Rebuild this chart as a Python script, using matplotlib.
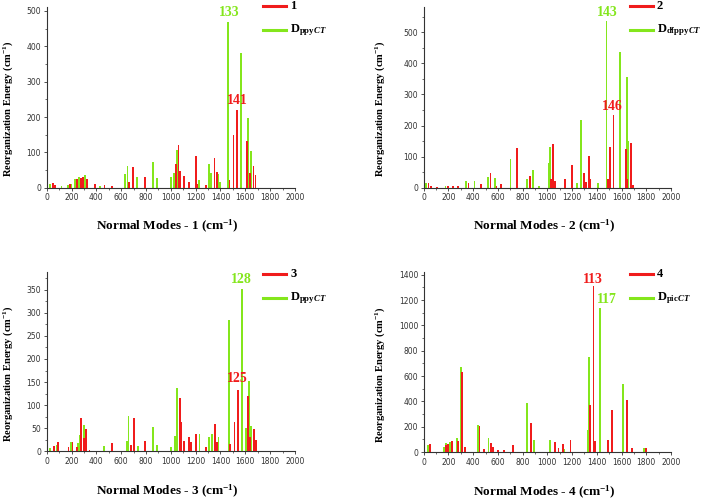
import matplotlib
matplotlib.use("Agg")
import matplotlib.pyplot as plt
from matplotlib.lines import Line2D
from matplotlib.ticker import MultipleLocator

plt.rcParams['mathtext.fontset'] = 'custom'
plt.rcParams['mathtext.rm'] = 'Liberation Serif:bold'
plt.rcParams['mathtext.bf'] = 'Liberation Serif:bold'
plt.rcParams['mathtext.it'] = 'Liberation Serif:bold:italic'

# ---------------- data ----------------
# Panel 1 : complex 1 (red) vs D_ppyCT (green)
p1_red_x = [48, 67, 188, 242, 277, 290, 322, 389, 465, 524, 663, 693, 792, 1042, 1061, 1074,
            1106, 1147, 1200, 1214, 1286, 1351, 1369, 1472, 1504, 1533, 1616, 1637, 1665, 1683]
p1_red_y = [15, 8, 10, 25, 28, 30, 25, 10, 7, 4, 18, 60, 32, 67, 122, 47,
            34, 18, 90, 10, 8, 83, 45, 22, 148, 220, 132, 43, 63, 35]
p1_grn_x = [27, 120, 170, 200, 228, 260, 309, 430, 630, 652, 725, 854, 886, 1004, 1026, 1047,
            1227, 1308, 1321, 1383, 1399, 1458, 1568, 1611, 1624, 1643]
p1_grn_y = [10, 4, 8, 10, 25, 30, 36, 5, 38, 63, 32, 74, 27, 32, 42, 106,
            22, 68, 43, 40, 16, 468, 382, 50, 198, 104]

# Panel 2 : complex 2 (red) vs D_dfppyCT (green)
p2_red_x = [38, 59, 108, 194, 234, 275, 361, 464, 539, 588, 625, 755, 860, 1030, 1048, 1062,
            1143, 1197, 1299, 1312, 1337, 1348, 1488, 1507, 1534, 1636, 1647, 1676, 1690]
p2_red_y = [17, 5, 4, 6, 5, 6, 17, 14, 47, 7, 13, 127, 37, 28, 140, 22,
            27, 73, 47, 18, 103, 30, 28, 132, 234, 126, 30, 145, 10]
p2_grn_x = [19, 175, 342, 410, 517, 579, 701, 833, 881, 935, 1008, 1021, 1240, 1272, 1410,
            1477, 1590, 1641, 1655]
p2_grn_y = [15, 7, 22, 22, 36, 33, 92, 30, 58, 5, 80, 130, 15, 217, 17,
            535, 435, 357, 150]

# Panel 3 : complex 3 (red) vs D_ppyCT (green)
p3_red_x = [59, 94, 175, 209, 247, 277, 303, 317, 344, 524, 679, 701, 792, 1074, 1082, 1106,
            1147, 1160, 1200, 1283, 1356, 1369, 1477, 1512, 1536, 1541, 1624, 1638, 1670, 1686]
p3_red_y = [12, 21, 10, 21, 10, 72, 28, 48, 3, 17, 14, 72, 23, 115, 64, 22,
            31, 20, 37, 10, 60, 20, 16, 64, 115, 132, 120, 32, 48, 25]
p3_grn_x = [27, 54, 86, 196, 255, 268, 300, 462, 644, 658, 733, 854, 886, 1001, 1034, 1052,
            1230, 1308, 1329, 1383, 1466, 1576, 1606, 1630, 1646]
p3_grn_y = [8, 10, 14, 21, 18, 35, 57, 12, 22, 76, 12, 52, 14, 10, 33, 138,
            37, 32, 38, 30, 284, 352, 50, 152, 55]

# Panel 4 : complex 4 (red) vs D_picCT (green)
p4_red_x = [51, 180, 199, 226, 280, 310, 334, 450, 485, 544, 558, 598, 647, 720, 868, 1062,
            1089, 1127, 1186, 1342, 1374, 1383, 1488, 1525, 1644, 1684, 1800]
p4_red_y = [60, 55, 60, 85, 85, 635, 40, 205, 25, 70, 40, 15, 12, 55, 230, 80,
            30, 60, 95, 375, 1310, 85, 95, 330, 410, 30, 35]
p4_grn_x = [32, 162, 180, 213, 270, 302, 437, 523, 835, 889, 1021, 1132, 1331, 1337, 1428,
            1609, 1784]
p4_grn_y = [55, 40, 70, 80, 110, 675, 210, 110, 385, 95, 95, 20, 170, 750, 1140,
            535, 35]

red_labels = ['1', '2', '3', '4']
grn_labels = [r'$\mathbf{D}_{\mathbf{ppy}\mathit{CT}}$',
              r'$\mathbf{D}_{\mathbf{dfppy}\mathit{CT}}$',
              r'$\mathbf{D}_{\mathbf{ppy}\mathit{CT}}$',
              r'$\mathbf{D}_{\mathbf{pic}\mathit{CT}}$']
xlabels = ['Normal Modes - 1 (cm$^{\\mathbf{-1}}$)', 'Normal Modes - 2 (cm$^{\\mathbf{-1}}$)',
           'Normal Modes - 3 (cm$^{\\mathbf{-1}}$)', 'Normal Modes - 4 (cm$^{\\mathbf{-1}}$)']
ylabel = 'Reorganization Energy (cm$^{\\mathbf{-1}}$)'
ytops = [511, 581, 389, 1424]
ymajor = [100, 100, 50, 200]
# peak annotations: (text, x, y, colour key)
annots = [[('133', 1468, 495, 'g'), ('141', 1532, 246, 'r')],
          [('143', 1482, 564, 'g'), ('146', 1528, 262, 'r')],
          [('128', 1571, 372, 'g'), ('125', 1538, 158, 'r')],
          [('113', 1367, 1364, 'r'), ('117', 1482, 1206, 'g')]]

RED = '#f01c1c'
GRN = '#84e61c'

panels = [(p1_red_x, p1_red_y, p1_grn_x, p1_grn_y),
          (p2_red_x, p2_red_y, p2_grn_x, p2_grn_y),
          (p3_red_x, p3_red_y, p3_grn_x, p3_grn_y),
          (p4_red_x, p4_red_y, p4_grn_x, p4_grn_y)]

# axes rectangles [left, bottom, width, height] (figure fraction)
rects = [[0.0665, 0.625, 0.3537, 0.361],
         [0.6036, 0.625, 0.3523, 0.361],
         [0.0665, 0.0992, 0.3537, 0.3585],
         [0.6036, 0.0978, 0.3523, 0.3599]]
leg_x = [0.872, 0.835, 0.872, 0.835]
leg_y = [(1.004, 0.871), (1.004, 0.871), (0.987, 0.855), (0.987, 0.855)]
ylab_x = [-0.128, -0.148, -0.128, -0.148]
ylab_y = [0.44, 0.44, 0.43, 0.43]
xlab_y = [-0.168, -0.168, -0.178, -0.178]

fig = plt.figure(figsize=(7.02, 5.01), dpi=100)
serif = 'Liberation Serif'

for i, (rx, ry, gx, gy) in enumerate(panels):
    ax = fig.add_axes(rects[i])
    ax.bar(gx, gy, width=14, color=GRN, linewidth=0, zorder=2)
    ax.bar(rx, ry, width=14, color=RED, linewidth=0, zorder=3)
    ax.set_xlim(0, 2000)
    ax.set_ylim(0, ytops[i])
    ax.xaxis.set_major_locator(MultipleLocator(200))
    ax.xaxis.set_minor_locator(MultipleLocator(100))
    ax.yaxis.set_major_locator(MultipleLocator(ymajor[i]))
    ax.yaxis.set_minor_locator(MultipleLocator(ymajor[i] / 2))
    for s in ['top', 'right']:
        ax.spines[s].set_visible(False)
    for s in ['left', 'bottom']:
        ax.spines[s].set_color('#333333')
        ax.spines[s].set_linewidth(0.8)
    ax.tick_params(which='major', direction='out', length=2.5, width=0.6,
                   colors='#333333', labelsize=5.5, pad=1.5)
    ax.tick_params(which='minor', direction='out', length=1.5, width=0.5, colors='#333333')
    ax.set_xlabel(xlabels[i], fontfamily=serif, fontweight='bold', fontsize=9.5)
    ax.xaxis.set_label_coords(0.487, xlab_y[i])
    ax.xaxis.label.set_va('top')
    ax.set_ylabel(ylabel, fontfamily=serif, fontweight='bold', fontsize=7.6)
    ax.yaxis.set_label_coords(ylab_x[i], ylab_y[i])

    # legend drawn manually
    x0 = leg_x[i]
    for (lab, col, yy) in [(red_labels[i], RED, leg_y[i][0]), (grn_labels[i], GRN, leg_y[i][1])]:
        ln = Line2D([x0, x0 + 0.092], [yy, yy], transform=ax.transAxes, color=col,
                    linewidth=2.2, clip_on=False)
        ax.add_line(ln)
        ax.text(x0 + 0.108, yy, lab, transform=ax.transAxes, fontfamily=serif,
                fontweight='bold', fontsize=9, va='center', ha='left', clip_on=False)

    for (t, xx, yy, c) in annots[i]:
        ax.text(xx, yy, t, color=GRN if c == 'g' else RED, fontfamily=serif,
                fontweight='bold', fontsize=10, ha='center', va='center', zorder=5)

fig.savefig('out.png', dpi=100)
